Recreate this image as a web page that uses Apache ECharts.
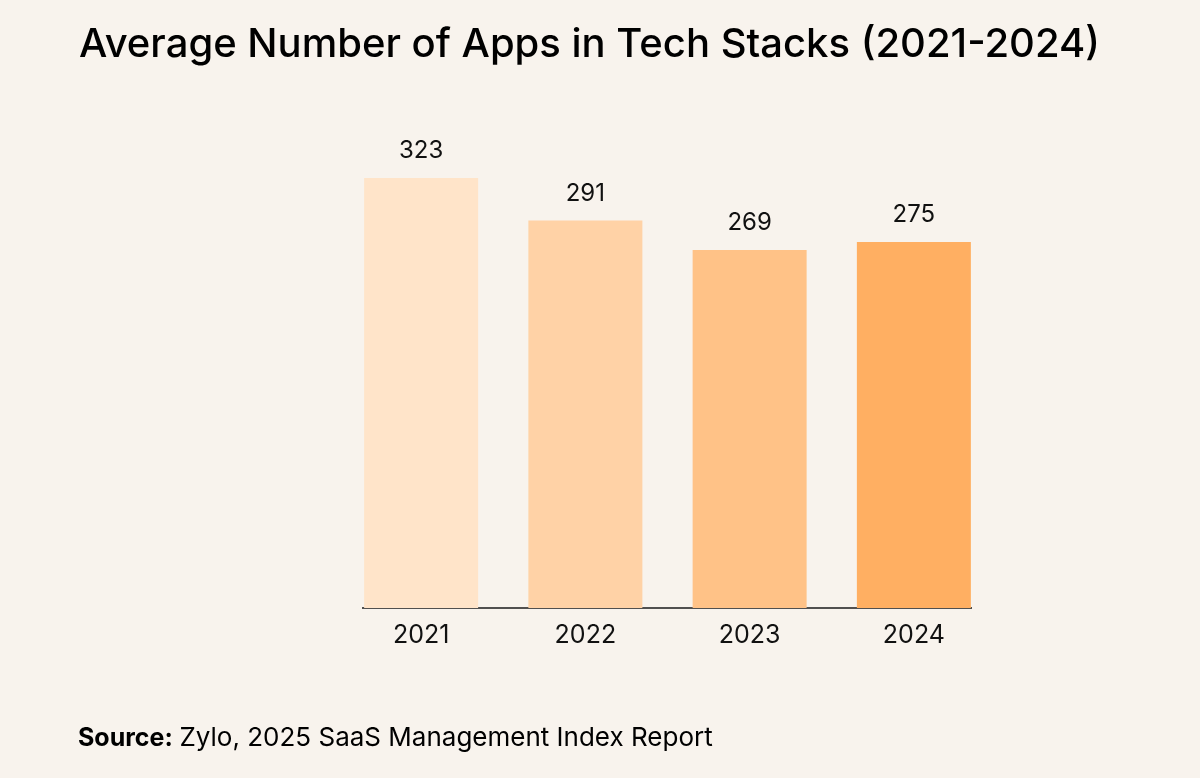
<!DOCTYPE html>
<html><head><meta charset="utf-8">
<script src="https://cdn.jsdelivr.net/npm/echarts@6/dist/echarts.min.js"></script>
<style>html,body{margin:0;padding:0;background:#F8F3ED;}#c{width:1200px;height:778px;}</style>
</head><body><div id="c"></div>
<script>
const categories = ['2021', '2022', '2023', '2024'];
const values = [323, 291, 269, 275];
const barColors = ['#FFE4C9', '#FFD2A6', '#FFC287', '#FFAF62'];
const titleText = 'Average Number of Apps in Tech Stacks (2021-2024)';

const chart = echarts.init(document.getElementById('c'));
chart.setOption({
  backgroundColor: '#F8F3ED',
  animation: false,
  title: {
    text: titleText, left: 74, top: 20,
    textStyle: { fontFamily: 'Inter', fontSize: 40, fontWeight: 500, color: '#000' }
  },
  grid: { left: 339, right: 204, top: 178, bottom: 170 },
  xAxis: {
    type: 'category', data: categories,
    axisLine: { show: false }, axisTick: { show: false },
    axisLabel: { fontFamily: 'Inter', fontSize: 25, color: '#111', margin: 15 }
  },
  yAxis: { type: 'value', min: 0, max: 323, show: false, splitLine: { show: false } },
  series: [{
    type: 'bar', barWidth: 114,
    data: values.map((v, i) => ({ value: v, itemStyle: { color: barColors[i] } })),
    label: { show: true, position: 'top', distance: 15, fontFamily: 'Inter', fontSize: 24, color: '#111' }
  }],
  graphic: [
    { type: 'line', shape: { x1: 362, y1: 608, x2: 972, y2: 608 }, style: { stroke: '#1a1a1a', lineWidth: 1.5 } },
    { type: 'text', left: 78, top: 725, style: {
      rich: { b: { fontFamily: 'Inter', fontWeight: 'bold', fontSize: 25, fill: '#000' },
              n: { fontFamily: 'Inter', fontSize: 26, fill: '#000' } },
      text: '{b|Source:}  {n|Zylo, 2025 SaaS Management Index Report}' } }
  ]
});
</script></body></html>
